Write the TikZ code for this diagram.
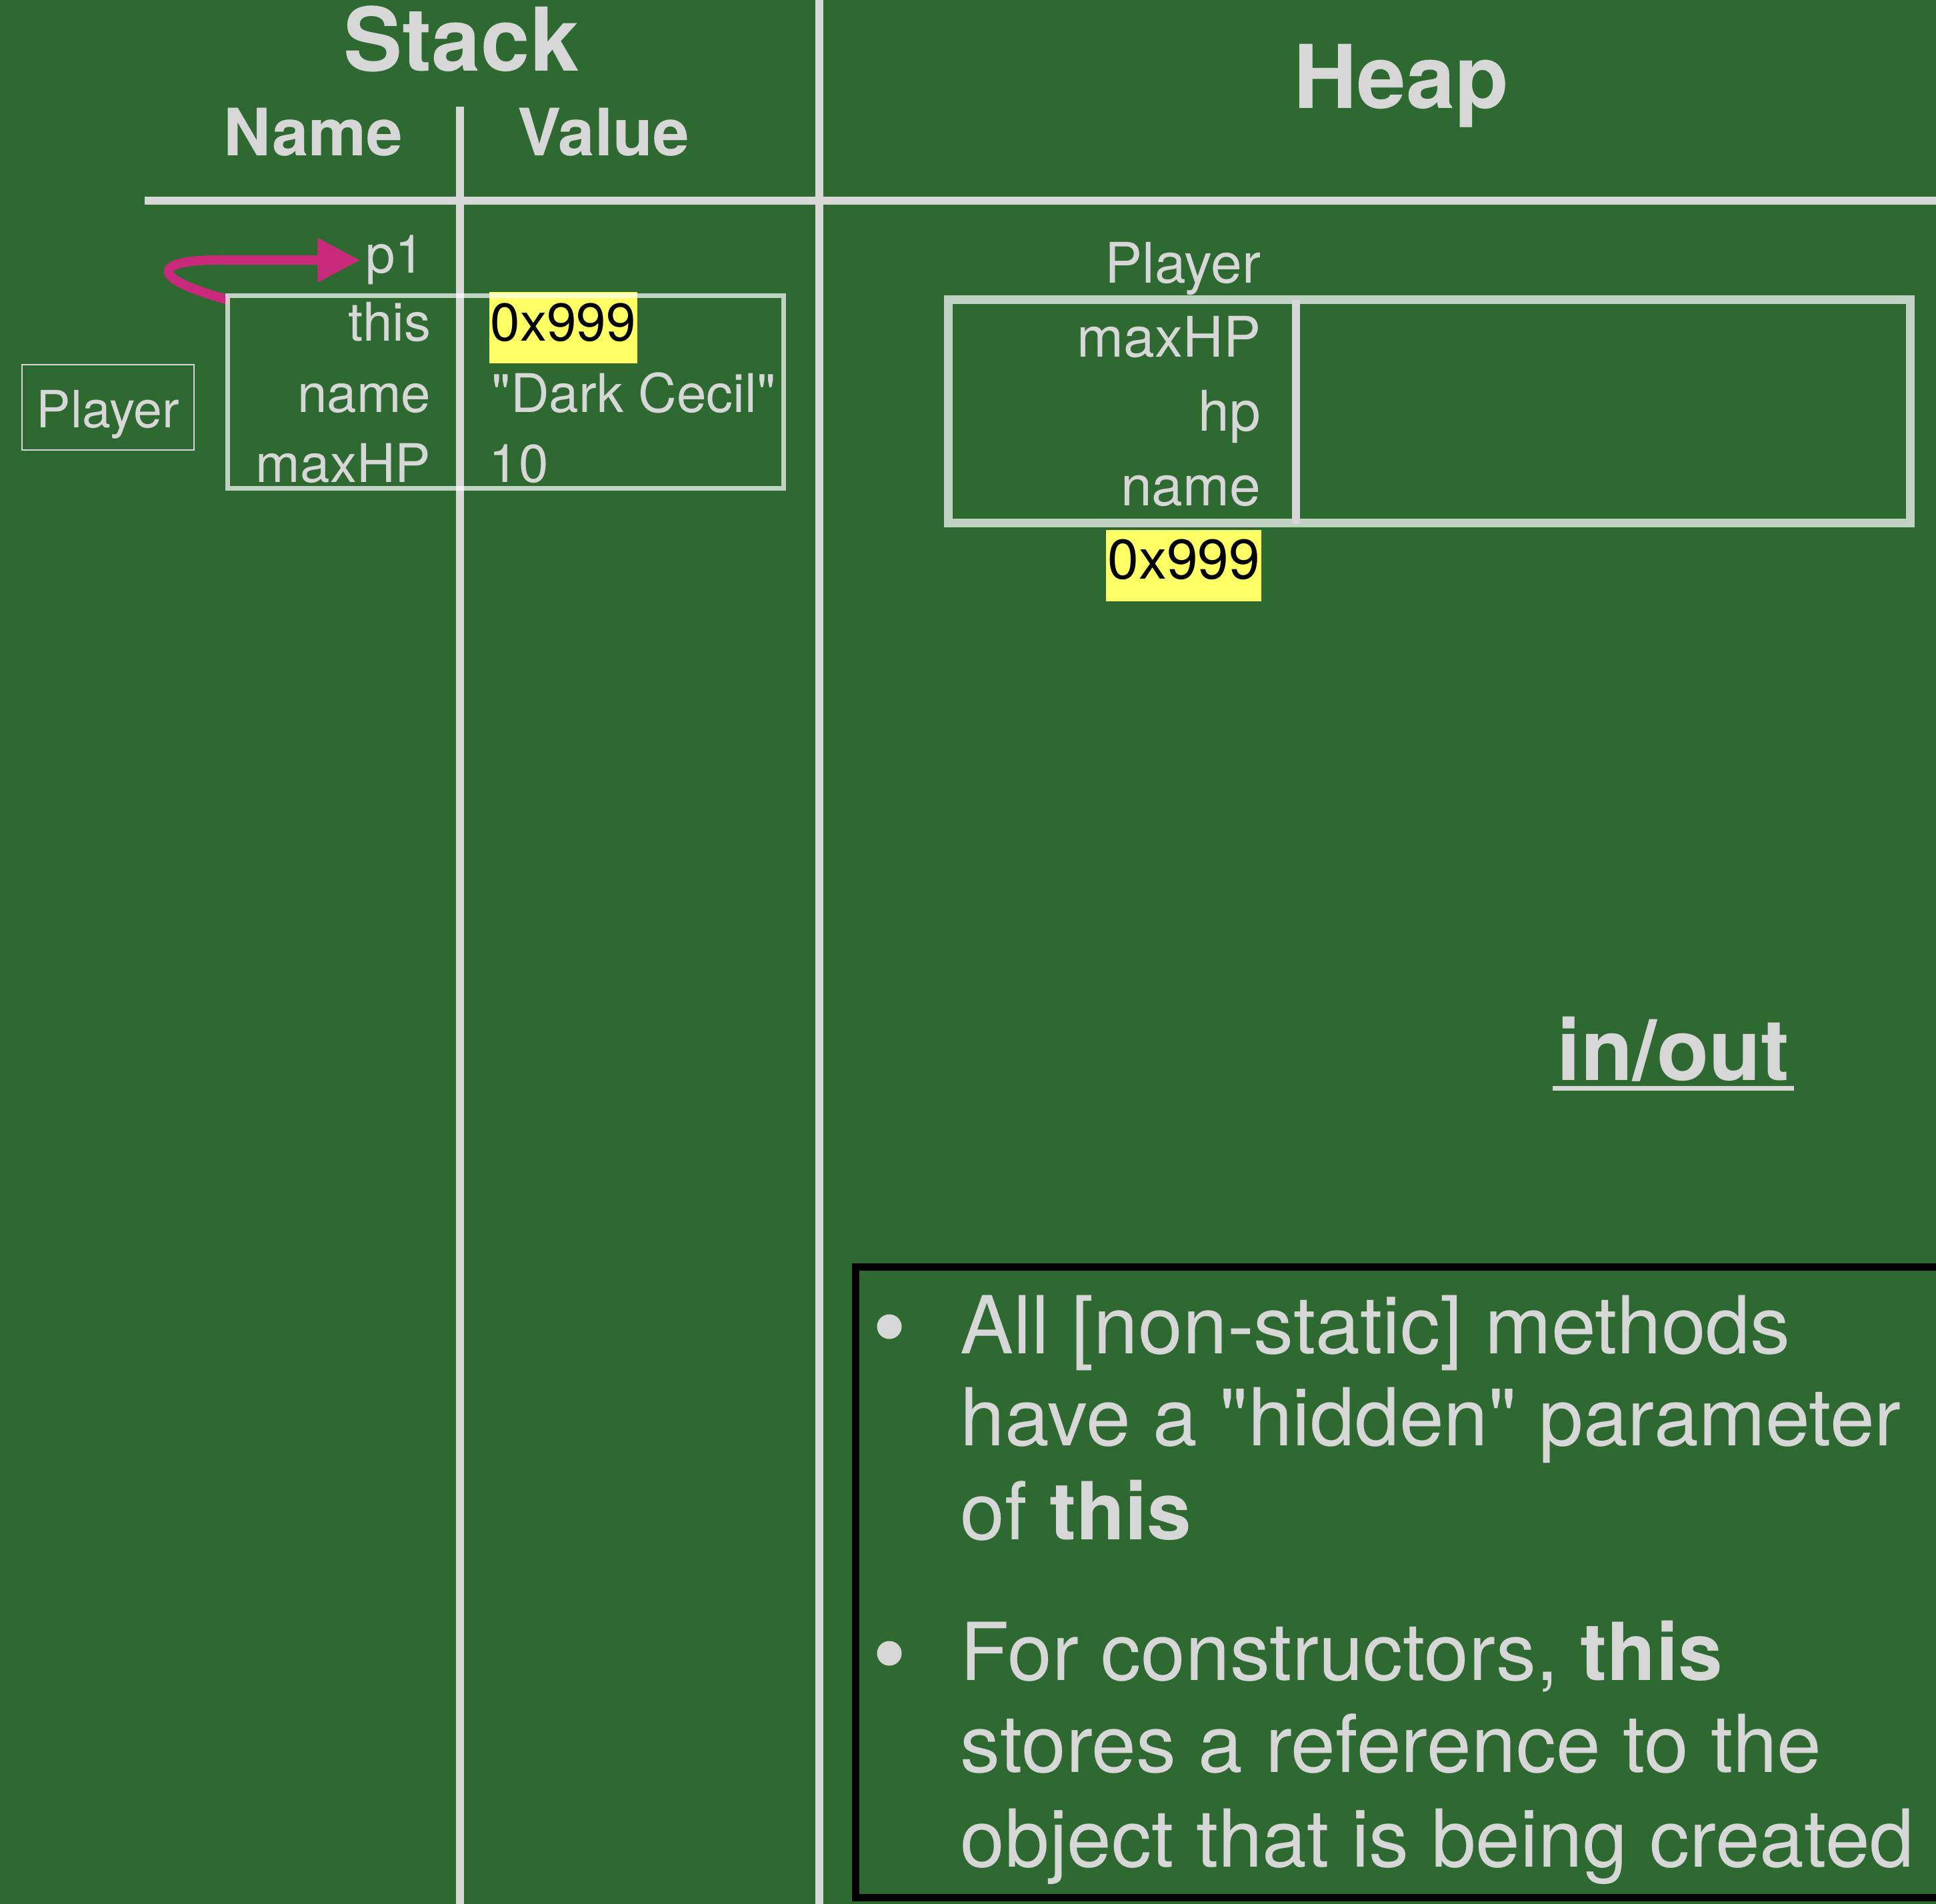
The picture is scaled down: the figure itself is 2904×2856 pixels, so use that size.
\documentclass[tikz,border=0pt]{standalone}
\usepackage{fontspec}
\setmainfont{TeX Gyre Heros}[Ligatures=TeXOff]
\usetikzlibrary{arrows.meta,calc}
\definecolor{board}{RGB}{46,105,50}
\definecolor{chalk}{RGB}{215,215,215}
\definecolor{hilite}{RGB}{255,255,102}
\definecolor{refpink}{RGB}{201,41,123}
\newcommand{\fs}[1]{\fontsize{#1}{#1}\selectfont}

\begin{document}
\begin{tikzpicture}[x=0.25pt,y=-0.25pt,>={Triangle[length=16pt,width=15.75pt]},
  chalktext/.style={text=chalk,inner sep=0pt},
  head/.style={chalktext,font=\fs{33}\bfseries,anchor=base},
  colhead/.style={chalktext,font=\fs{24.5}\bfseries,anchor=base},
  field/.style={chalktext,font=\fs{20},anchor=base east},
  value/.style={chalktext,font=\fs{20},anchor=base west},
  hfield/.style={chalktext,font=\fs{21},anchor=base east},
  addr/.style={fill=hilite,text=black,inner xsep=0.5pt,inner ysep=0pt,text height=18.5pt,text depth=8.25pt},
  rule/.style={chalk,line width=3pt},
  objbox/.style={draw=white,draw opacity=0.7},
  item/.style={chalktext,font=\fs{30},anchor=base west},
  dot/.style={circle,fill=chalk,minimum size=9.25pt,inner sep=0pt}]
% board
\fill[board] (0,0) rectangle (2904,2856);
\useasboundingbox (0,0) rectangle (2904,2856);
% table rules
\draw[rule] (217,301) -- (2904,301);
\draw[rule] (690,160) -- (690,2856);
\draw[rule] (1229,0) -- (1229,2856);
\node[head] (stack) at (692,107) {Stack};
\node[head] (heap) at (2102,163) {Heap};
\node[colhead] (namecol) at (470,234) {Name};
\node[colhead] (valuecol) at (905,234) {Value};
% stack frame of the constructor
\node[field] (p1) at (638,410) {p1};
\node[field] (this) at (647,512) {this};
\node[field] (sname) at (647,619) {name};
\node[field] (smax) at (647,724) {maxHP};
\node[addr,font=\fs{20},anchor=base west] (thisval) at (733,512) {0x999};
\node[value] (nameval) at (737,619) {"Dark Cecil"};
\node[value] (maxval) at (733,724) {10};
\node[chalktext,font=\fs{19.25},anchor=base] (ptype) at (162,642) {Player};
\draw[chalk,line width=0.6pt] (33,547) rectangle (291,675);
% p1 comes back from the frame
\coordinate (loop) at (343,450);
\draw[refpink,line width=3.5pt,->] (loop) .. controls (225,418) and (225,390) .. (330,390) -- ([xshift=-1.75pt]p1.west);
\draw[objbox,line width=1.75pt] (341,444) rectangle (1175,733);
% object on the heap
\node[hfield] (htype) at (1892,425) {Player};
\node[hfield] (hmax) at (1892,536) {maxHP};
\node[hfield] (hhp) at (1892,647) {hp};
\node[hfield] (hname) at (1892,759) {name};
\draw[objbox,line width=3.25pt] (1422,450) rectangle (2865,785);
\draw[chalk,line width=3pt] (1944,450) -- (1944,785);
\node[addr,font=\fs{21},anchor=base east] (heapaddr) at (1893,869) {0x999};
% in/out
\node[chalktext,font=\fs{32}\bfseries,anchor=base,text depth=0pt,inner ysep=3pt,inner xsep=1.5pt] (inout) at (2510,1620) {in/out};
\draw[chalk,line width=1.7pt] (inout.south west) -- (inout.south east);
% notes
\draw[black,line width=2.75pt] (1283,1900) rectangle (2930,2846);
\node[dot] (dot1) at (1334,1990) {};
\node[dot] (dot2) at (1334,2480) {};
\node[item] (l1) at (1440,2030) {All [non-static] methods};
\node[item] (l2) at (1440,2168) {have a "hidden" parameter};
\node[item] (l3) at (1440,2309) {of \textbf{this}};
\node[item] (l4) at (1440,2520) {For constructors, \textbf{this}};
\node[item] (l5) at (1440,2658) {stores a reference to the};
\node[item] (l6) at (1440,2800) {object that is being created};
\end{tikzpicture}
\end{document}
